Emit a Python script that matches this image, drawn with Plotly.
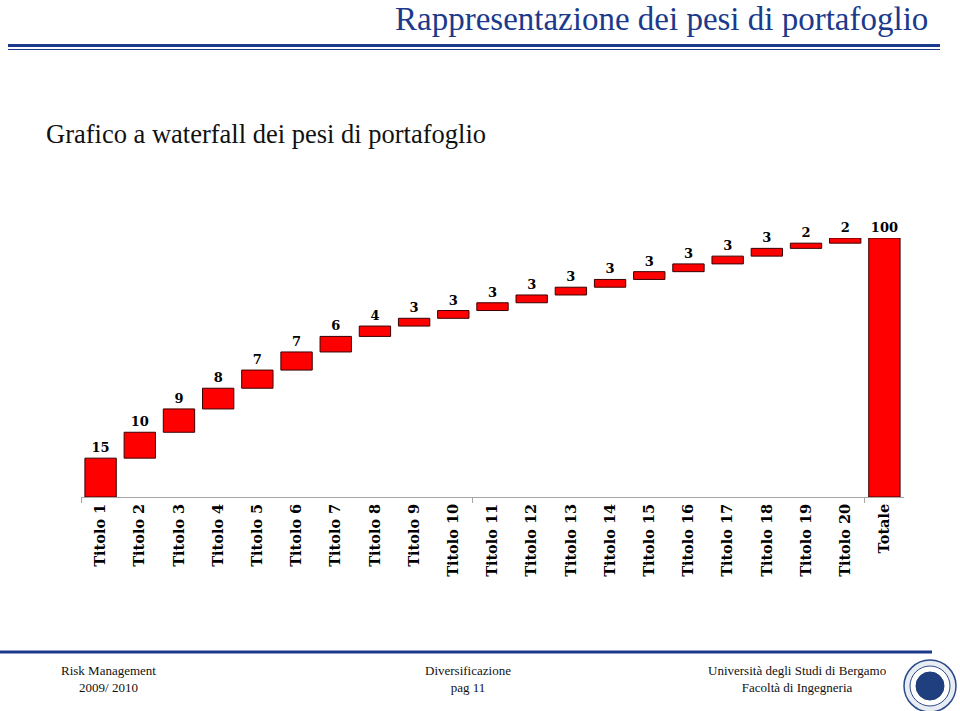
import plotly.graph_objects as go

categories = [f"Titolo {i}" for i in range(1, 21)] + ["Totale"]
weights = [15, 10, 9, 8, 7, 7, 6, 4, 3, 3, 3, 3, 3, 3, 3, 3, 3, 3, 2, 2]
total = sum(weights)

W, H = 960, 711
def px(x):
    return x / W
def py(y):
    return 1 - y / H

SERIF = "Liberation Serif"
BOLDSERIF = "DejaVu Serif"
BLUE = "#1B3A8C"

measures = ["relative"] * len(weights) + ["total"]
yvals = weights + [0]
texts = [str(v) for v in weights] + [str(total)]

fig = go.Figure()
fig.add_trace(go.Waterfall(
    x=categories, y=yvals, measure=measures,
    text=texts, textposition="outside",
    textfont=dict(family=BOLDSERIF, size=13, color="black", weight="bold"),
    connector=dict(visible=False),
    increasing=dict(marker=dict(color="#FF0000", line=dict(color="#3A0000", width=1))),
    totals=dict(marker=dict(color="#FF0000", line=dict(color="#3A0000", width=1))),
    cliponaxis=False, showlegend=False, hoverinfo="skip",
))
# invisible trace on secondary axis to show boundary tick marks
fig.add_trace(go.Scatter(x=[-0.5, 20.5], y=[0, 0], mode="markers",
                         marker=dict(opacity=0), xaxis="x2", yaxis="y",
                         showlegend=False, hoverinfo="skip"))

fig.update_layout(
    width=W, height=H,
    margin=dict(l=0, r=0, t=0, b=0),
    paper_bgcolor="white", plot_bgcolor="white",
    bargap=0.21,
    xaxis=dict(domain=[px(81), px(904)], anchor="y", showline=True, linecolor="#A6A6A6",
               linewidth=1, ticks="", tickangle=-90, showgrid=False, zeroline=False,
               tickfont=dict(family=BOLDSERIF, size=14.5, color="black", weight="bold"),
               fixedrange=True),
    xaxis2=dict(domain=[px(81), px(904)], anchor="y", overlaying="x", side="bottom",
                range=[-0.5, 20.5], tickmode="array", tickvals=[-0.5, 9.5, 19.5],
                ticks="outside", ticklen=5, tickcolor="#A6A6A6", showticklabels=False,
                showgrid=False, zeroline=False, showline=False),
    yaxis=dict(domain=[py(497), py(238)], range=[0, total], visible=False,
               showgrid=False, zeroline=False),
)

# Slide title
fig.add_annotation(text="Rappresentazione dei pesi di portafoglio", xref="paper", yref="paper",
                   x=px(930), y=py(19), xanchor="right", yanchor="middle", showarrow=False,
                   font=dict(family=SERIF, size=33, color=BLUE))
# Subtitle
fig.add_annotation(text="Grafico a waterfall dei pesi di portafoglio", xref="paper", yref="paper",
                   x=px(44), y=py(134), xanchor="left", yanchor="middle", showarrow=False,
                   font=dict(family=SERIF, size=26.5, color="#111111"))

# title rules
fig.add_shape(type="line", xref="paper", yref="paper", x0=px(8), x1=px(940), y0=py(45.5), y1=py(45.5),
              line=dict(color=BLUE, width=3))
fig.add_shape(type="line", xref="paper", yref="paper", x0=px(8), x1=px(940), y0=py(49.5), y1=py(49.5),
              line=dict(color=BLUE, width=1.2))
# footer rule
fig.add_shape(type="line", xref="paper", yref="paper", x0=0, x1=px(932), y0=py(652), y1=py(652),
              line=dict(color=BLUE, width=3))

footer = [
    (108, "Risk Management<br>2009/ 2010"),
    (468, "Diversificazione<br>pag 11"),
    (797, "Università degli Studi di Bergamo<br>Facoltà di Ingegneria"),
]
for x, t in footer:
    fig.add_annotation(text=t, xref="paper", yref="paper", x=px(x), y=py(679),
                       xanchor="center", yanchor="middle", showarrow=False, align="center",
                       font=dict(family=SERIF, size=13, color="#111111"))

# logo (seal)
cx, cy, r = 930, 686, 26
fig.add_shape(type="circle", xref="paper", yref="paper",
              x0=px(cx - r), x1=px(cx + r), y0=py(cy + r), y1=py(cy - r),
              line=dict(color="#2B4A8A", width=1.5), fillcolor="#E8ECF3")
r2 = 20
fig.add_shape(type="circle", xref="paper", yref="paper",
              x0=px(cx - r2), x1=px(cx + r2), y0=py(cy + r2), y1=py(cy - r2),
              line=dict(color="#2B4A8A", width=1), fillcolor="#FFFFFF")
r3 = 14
fig.add_shape(type="circle", xref="paper", yref="paper",
              x0=px(cx - r3), x1=px(cx + r3), y0=py(cy + r3), y1=py(cy - r3),
              line=dict(color="#1B3A7A", width=1), fillcolor="#1F3F7F")

fig.write_html("out.html", config={"displayModeBar": False},
               post_script="document.body.style.margin='0';document.body.style.overflow='hidden';")
